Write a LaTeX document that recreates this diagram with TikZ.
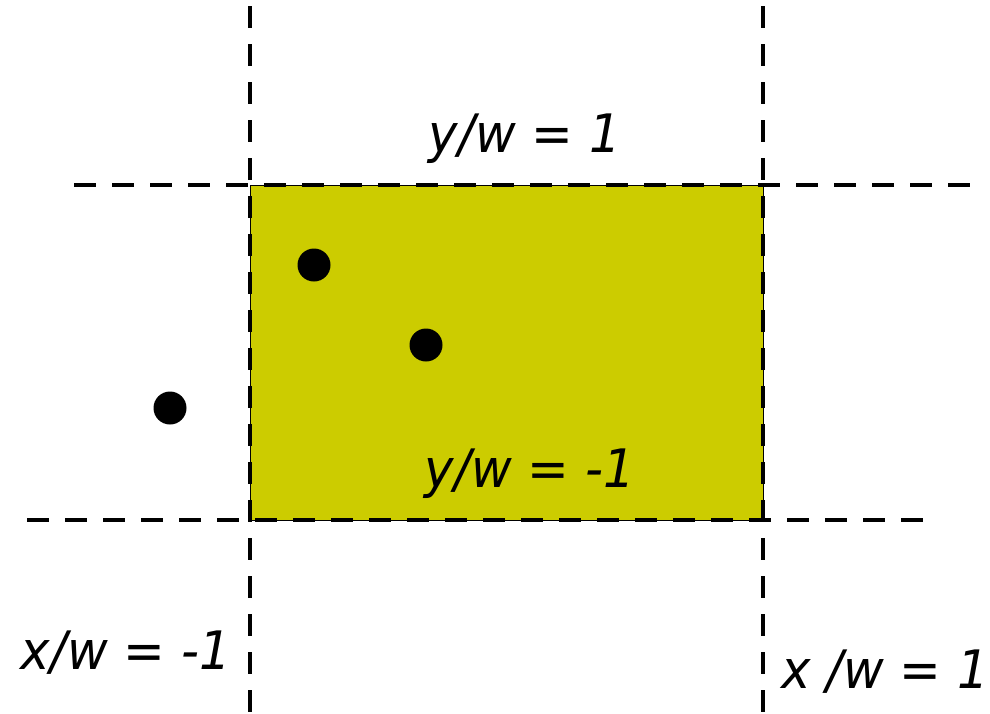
\documentclass[tikz,border=0pt]{standalone}
\usepackage{fontspec}
\setmainfont{DejaVu Sans}
\definecolor{boxfill}{HTML}{CCCC00}
\newcommand{\lbltext}[1]{\scalebox{0.94}[1]{#1}}
\tikzset{
  guide/.style={line width=4.5pt, dash pattern=on 22pt off 16pt},
  lbl/.style={anchor=base, inner sep=0pt, font=\fontsize{53}{60}\selectfont\itshape},
  dot/.style={circle, fill=black, minimum size=33pt, inner sep=0pt},
}
\begin{document}
\begin{tikzpicture}[x=1pt, y=-1pt]
\useasboundingbox (0,0) rectangle (990,713);
\fill[boxfill, draw=black, line width=1pt] (250,185) rectangle (763,520);
% horizontal guides
\coordinate (t1) at (74,185); \coordinate (t2) at (972,185);
\coordinate (b1) at (27,520); \coordinate (b2) at (925,520);
\draw[guide] (t1) -- (t2);
\draw[guide] (b1) -- (b2);
% vertical guides
\coordinate (l1) at (250,0); \coordinate (l2) at (250,713);
\coordinate (r1) at (763,0); \coordinate (r2) at (763,713);
\draw[guide, dash phase=32pt] (l1) -- (l2);
\draw[guide, dash phase=32pt] (r1) -- (r2);
% points
\node[dot] (p1) at (314,265) {};
\node[dot] (p2) at (426,345) {};
\node[dot] (p3) at (170,408) {};
% labels
\node[lbl] (ytop) at (525,152) {\lbltext{y/w = 1}};
\node[lbl] (ybot) at (530,487) {\lbltext{y/w = -1}};
\node[lbl] (xleft) at (126,669) {\lbltext{x/w = -1}};
\node[lbl] (xright) at (885,688) {\lbltext{x /w = 1}};
\end{tikzpicture}
\end{document}
